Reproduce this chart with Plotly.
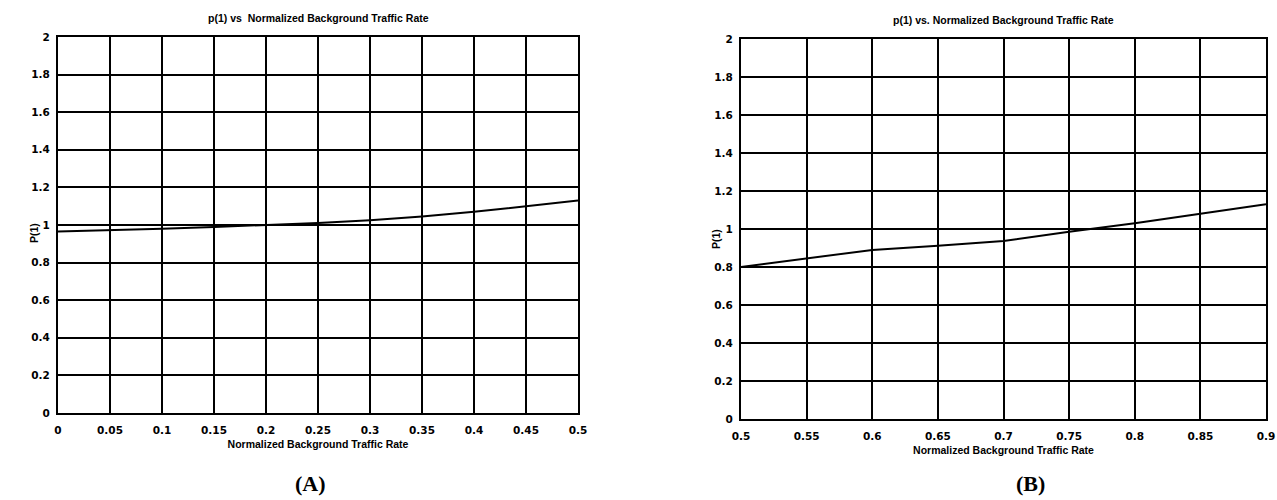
import plotly.graph_objects as go

# p(1) versus normalized background traffic rate, two rate ranges
rate_a = [0.0, 0.05, 0.1, 0.15, 0.2, 0.25, 0.3, 0.35, 0.4, 0.45, 0.5]
p1_a = [0.966, 0.972, 0.98, 0.99, 1.0, 1.01, 1.025, 1.045, 1.07, 1.1, 1.13]

rate_b = [0.5, 0.55, 0.6, 0.65, 0.7, 0.75, 0.8, 0.85, 0.9]
p1_b = [0.80, 0.845, 0.89, 0.912, 0.937, 0.985, 1.03, 1.08, 1.13]

ticks_a = [0, 0.05, 0.1, 0.15, 0.2, 0.25, 0.3, 0.35, 0.4, 0.45, 0.5]
tick_text_a = ["0", "0.05", "0.1", "0.15", "0.2", "0.25", "0.3", "0.35", "0.4", "0.45", "0.5"]
ticks_b = [0.5, 0.55, 0.6, 0.65, 0.7, 0.75, 0.8, 0.85, 0.9]
tick_text_b = ["0.5", "0.55", "0.6", "0.65", "0.7", "0.75", "0.8", "0.85", "0.9"]
ticks_y = [0, 0.2, 0.4, 0.6, 0.8, 1, 1.2, 1.4, 1.6, 1.8, 2]
tick_text_y = ["0", "0.2", "0.4", "0.6", "0.8", "1", "1.2", "1.4", "1.6", "1.8", "2"]

W, H = 1277, 500
tick_font = dict(family="DejaVu Sans", size=10.5, color="black", weight="bold")
title_font = dict(family="Liberation Sans", size=10.5, color="black", weight="bold")
panel_font = dict(family="Liberation Serif", size=22, color="black", weight="bold")

fig = go.Figure()
fig.add_trace(go.Scatter(x=rate_a, y=p1_a, mode="lines", xaxis="x", yaxis="y",
                         line=dict(color="black", width=2), showlegend=False))
fig.add_trace(go.Scatter(x=rate_b, y=p1_b, mode="lines", xaxis="x2", yaxis="y2",
                         line=dict(color="black", width=2), showlegend=False))


def xax(domain, rng, tv, tt, anchor):
    return dict(domain=domain, range=rng, tickvals=tv, ticktext=tt, anchor=anchor,
                automargin=False,
                showgrid=True, gridcolor="black", gridwidth=1.6, zeroline=False,
                showline=True, linecolor="black", linewidth=2, mirror=True,
                ticks="", tickfont=tick_font, ticklabelstandoff=6,
                title=dict(text="Normalized Background Traffic Rate", font=title_font, standoff=6))


def yax(domain, anchor):
    return dict(domain=domain, range=[0, 2], tickvals=ticks_y, ticktext=tick_text_y, anchor=anchor,
                automargin=False,
                showgrid=True, gridcolor="black", gridwidth=1.6, zeroline=False,
                showline=True, linecolor="black", linewidth=2, mirror=True,
                ticks="", tickfont=tick_font, ticklabelstandoff=4)


ax_a = [58 / W, 578 / W]
ay_a = [(H - 413) / H, (H - 37) / H]
ax_b = [741 / W, 1266 / W]
ay_b = [(H - 419) / H, (H - 39) / H]


def note(text, x, y, font, angle=0):
    return dict(text=text, x=x / W, y=(H - y) / H, xref="paper", yref="paper",
                xanchor="center", yanchor="middle", showarrow=False, font=font,
                textangle=angle)


fig.update_layout(
    width=W, height=H,
    margin=dict(l=0, r=0, t=0, b=0, pad=0, autoexpand=False),
    paper_bgcolor="white", plot_bgcolor="white",
    xaxis=xax(ax_a, [0, 0.5], ticks_a, tick_text_a, "y"),
    yaxis=yax(ay_a, "x"),
    xaxis2=xax(ax_b, [0.5, 0.9], ticks_b, tick_text_b, "y2"),
    yaxis2=yax(ay_b, "x2"),
    annotations=[
        note("p(1) vs  Normalized Background Traffic Rate", 318, 18, title_font),
        note("p(1) vs. Normalized Background Traffic Rate", 1003, 20, title_font),
        note("P(1)", 34, 233, title_font, -90),
        note("P(1)", 716, 239, title_font, -90),
        note("(A)", 310, 483, panel_font),
        note("(B)", 1030, 483, panel_font),
    ],
)

fig.write_html("out.html")
